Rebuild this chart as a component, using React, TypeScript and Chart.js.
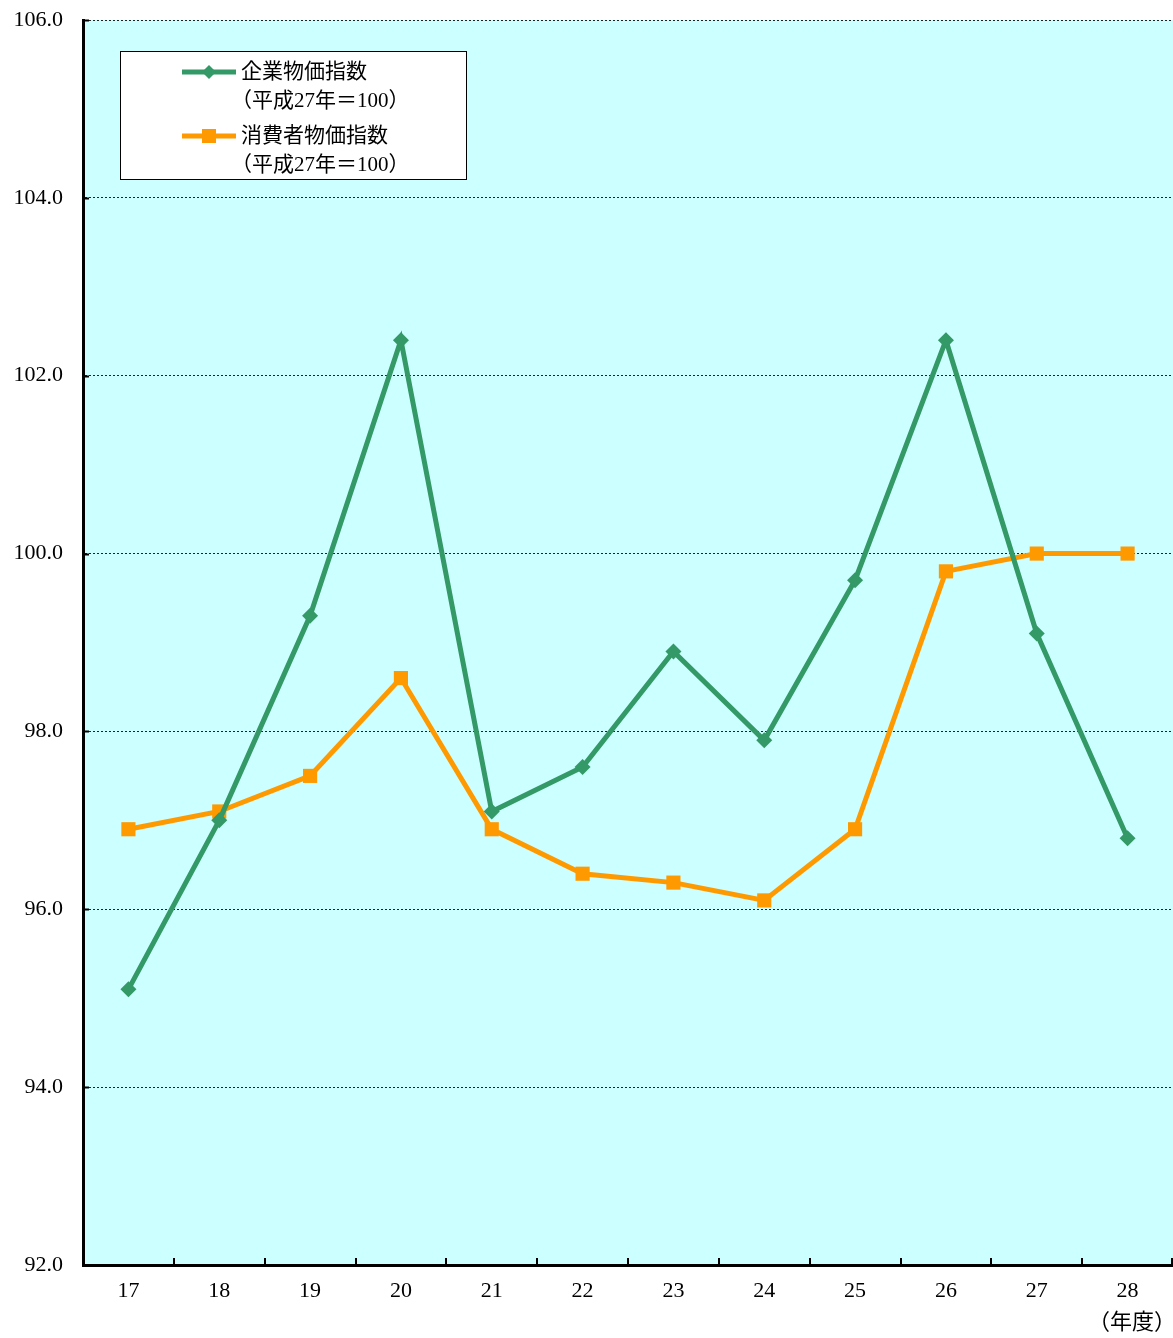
import React, { useEffect, useRef } from "react";
import { Chart, registerables } from "chart.js";

Chart.register(...registerables);

const categories = ["17", "18", "19", "20", "21", "22", "23", "24", "25", "26", "27", "28"];
const corporateLabel = ["企業物価指数", "（平成27年＝100）"];
const consumerLabel = ["消費者物価指数", "（平成27年＝100）"];
const corporateValues = [95.1, 97.0, 99.3, 102.4, 97.1, 97.6, 98.9, 97.9, 99.7, 102.4, 99.1, 96.8];
const consumerValues = [96.9, 97.1, 97.5, 98.6, 96.9, 96.4, 96.3, 96.1, 96.9, 99.8, 100.0, 100.0];
const yMin = 92;
const yMax = 106;
const yStep = 2;
const xUnitLabel = "（年度）";

const GREEN = "#339966";
const ORANGE = "#FF9900";
const BG = "#CCFFFF";
const FONT = "'Liberation Serif', 'Noto Sans CJK JP', serif";

const decorPlugin = {
  id: "decor",
  beforeDraw(chart: any) {
    const { ctx, chartArea } = chart;
    ctx.save();
    ctx.fillStyle = "#ffffff";
    ctx.fillRect(0, 0, chart.width, chart.height);
    ctx.fillStyle = BG;
    ctx.fillRect(chartArea.left, chartArea.top, chartArea.right - chartArea.left, chartArea.bottom - chartArea.top);
    ctx.restore();
  },
  afterDraw(chart: any) {
    const { ctx, chartArea } = chart;
    const x = chart.scales.x;
    const y = chart.scales.y;
    ctx.save();
    ctx.strokeStyle = "#000";
    ctx.lineWidth = 2;
    // inward tick marks between categories
    for (let i = 0; i < categories.length; i++) {
      const px =
        i < categories.length - 1
          ? (x.getPixelForValue(i) + x.getPixelForValue(i + 1)) / 2
          : chartArea.right - 1;
      ctx.beginPath();
      ctx.moveTo(Math.round(px), chartArea.bottom);
      ctx.lineTo(Math.round(px), chartArea.bottom - 7);
      ctx.stroke();
    }
    // inward tick marks on the value axis
    for (let v = yMin + yStep; v <= yMax; v += yStep) {
      const py = Math.round(y.getPixelForValue(v)) + 0.5;
      ctx.beginPath();
      ctx.moveTo(chartArea.left, py);
      ctx.lineTo(chartArea.left + 6, py);
      ctx.stroke();
    }
    // unit label
    ctx.fillStyle = "#000";
    ctx.font = `22px ${FONT}`;
    ctx.textAlign = "center";
    ctx.textBaseline = "middle";
    ctx.fillText(xUnitLabel, 1132, 1323);

    // legend box
    const bx = 120, by = 51, bw = 346, bh = 128;
    ctx.fillStyle = "#ffffff";
    ctx.fillRect(bx, by, bw, bh);
    ctx.strokeStyle = "#000";
    ctx.lineWidth = 1;
    ctx.strokeRect(bx + 0.5, by + 0.5, bw, bh);

    const items = [
      { color: GREEN, lines: corporateLabel, y: 72, style: "diamond" },
      { color: ORANGE, lines: consumerLabel, y: 136, style: "square" },
    ];
    for (const it of items) {
      ctx.strokeStyle = it.color;
      ctx.lineWidth = 5;
      ctx.beginPath();
      ctx.moveTo(182, it.y);
      ctx.lineTo(236, it.y);
      ctx.stroke();
      ctx.fillStyle = it.color;
      ctx.beginPath();
      if (it.style === "diamond") {
        ctx.moveTo(209, it.y - 7);
        ctx.lineTo(216, it.y);
        ctx.lineTo(209, it.y + 7);
        ctx.lineTo(202, it.y);
        ctx.closePath();
      } else {
        ctx.rect(202, it.y - 7, 14, 14);
      }
      ctx.fill();
      ctx.fillStyle = "#000";
      ctx.font = `21px ${FONT}`;
      ctx.textAlign = "left";
      ctx.textBaseline = "middle";
      ctx.fillText(it.lines[0], 241, it.y);
      ctx.fillText(it.lines[1], 231, it.y + 29);
    }
    ctx.restore();
  },
};

export default function App() {
  const ref = useRef<HTMLCanvasElement | null>(null);
  useEffect(() => {
    if (!ref.current) return;
    const chart = new Chart(ref.current, {
      type: "line",
      data: {
        labels: categories,
        datasets: [
          {
            label: corporateLabel.join(""),
            data: corporateValues,
            borderColor: GREEN,
            backgroundColor: GREEN,
            borderWidth: 5,
            pointStyle: "rectRot",
            pointRadius: 8,
            pointBorderWidth: 0,
            tension: 0,
          },
          {
            label: consumerLabel.join(""),
            data: consumerValues,
            borderColor: ORANGE,
            backgroundColor: ORANGE,
            borderWidth: 5,
            pointStyle: "rect",
            pointRadius: 10,
            pointBorderWidth: 0,
            tension: 0,
          },
        ],
      },
      options: {
        animation: false,
        responsive: false,
        maintainAspectRatio: false,
        layout: { autoPadding: false, padding: { top: 20, right: 0, bottom: 0, left: 0 } },
        plugins: {
          legend: { display: false },
          tooltip: { enabled: false },
        },
        scales: {
          x: {
            type: "category",
            offset: true,
            grid: { display: false, drawTicks: false },
            border: { display: true, color: "#000", width: 3 },
            ticks: {
              color: "#000",
              font: { family: FONT, size: 22 },
              padding: 13,
              maxRotation: 0,
            },
            afterFit(scale: any) {
              scale.height = 73;
              scale.paddingLeft = 0;
              scale.paddingRight = 0;
            },
          },
          y: {
            min: yMin,
            max: yMax,
            grid: {
              color: (c: any) => (c.tick && c.tick.value === yMin ? "rgba(0,0,0,0)" : "#222"),
              lineWidth: 1,
              drawTicks: false,
            },
            border: { display: true, color: "#000", width: 3, dash: [2, 2] },
            ticks: {
              stepSize: yStep,
              color: "#000",
              font: { family: FONT, size: 22 },
              padding: 20,
              callback: (v: any) => Number(v).toFixed(1),
            },
            afterFit(scale: any) {
              scale.width = 83;
              scale.paddingTop = 0;
              scale.paddingBottom = 0;
            },
          },
        },
      },
      plugins: [decorPlugin],
    });
    return () => chart.destroy();
  }, []);
  return (
    <div style={{ position: "absolute", left: 0, top: 0, width: 1173, height: 1338 }}>
      <canvas ref={ref} width={1173} height={1338} style={{ display: "block" }} />
    </div>
  );
}
